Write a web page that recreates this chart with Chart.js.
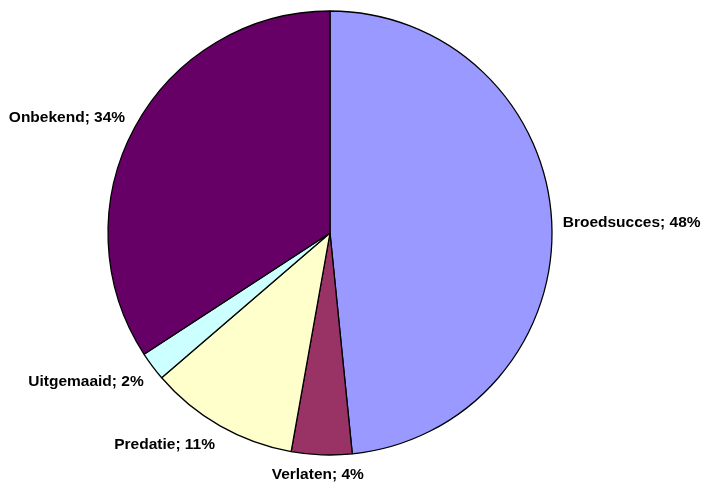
<!DOCTYPE html>
<html>
<head>
<meta charset="utf-8">
<script src="https://cdn.jsdelivr.net/npm/chart.js@4"></script>
<style>
  html, body { margin: 0; padding: 0; background: #fff; }
  #wrap { width: 701px; height: 488px; }
</style>
</head>
<body>
<div id="wrap"><canvas id="pieChart"></canvas></div>
<script>
// data (clockwise from 12 o'clock)
var categories = ['Broedsucces', 'Verlaten', 'Predatie', 'Uitgemaaid', 'Onbekend'];
var shares = [48.4, 4.4, 10.9, 2.1, 34.2];
var shareLabels = ['48%', '4%', '11%', '2%', '34%'];
var sliceColors = ['#9999FF', '#993366', '#FFFFCC', '#CCFFFF', '#660066'];

// draws "name; pct" next to each slice, box corner pushed away from the pie
var outsideLabels = {
    id: 'outsideLabels',
    afterDatasetsDraw: function (chart) {
        var ctx = chart.ctx;
        var arcs = chart.getDatasetMeta(0).data;
        ctx.save();
        ctx.font = 'bold 15.5px "Liberation Sans", Arial, sans-serif';
        ctx.fillStyle = '#000';
        ctx.textAlign = 'center';
        ctx.textBaseline = 'middle';
        arcs.forEach(function (arc, i) {
            var p = arc.getProps(['x', 'y', 'startAngle', 'endAngle', 'outerRadius'], true);
            var mid = (p.startAngle + p.endAngle) / 2;
            var r = p.outerRadius + 11;
            var ax = p.x + Math.cos(mid) * r;
            var ay = p.y + Math.sin(mid) * r;
            var text = categories[i] + '; ' + shareLabels[i];
            var w = ctx.measureText(text).width;
            var h = 14;
            var kx = Math.max(-1, Math.min(1, Math.cos(mid) * 2));
            var ky = Math.max(-1, Math.min(1, Math.sin(mid) * 2));
            ctx.fillText(text, ax + kx * w / 2, ay + ky * h / 2 + 2);
        });
        ctx.restore();
    }
};

document.addEventListener('DOMContentLoaded', function () {
    var pieCtx = document.getElementById('pieChart').getContext('2d');

    new Chart(pieCtx, {
        type: 'pie',
        data: {
            labels: categories,
            datasets: [{
                data: shares,
                backgroundColor: sliceColors,
                borderColor: '#000',
                borderWidth: 1.3
            }]
        },
        options: {
            responsive: true,
            maintainAspectRatio: false,
            animation: false,
            radius: 222,
            layout: { padding: { left: 0, right: 41, top: 0, bottom: 22 } },
            plugins: {
                legend: { display: false },
                tooltip: { enabled: false }
            }
        },
        plugins: [outsideLabels]
    });
});
</script>
</body>
</html>
